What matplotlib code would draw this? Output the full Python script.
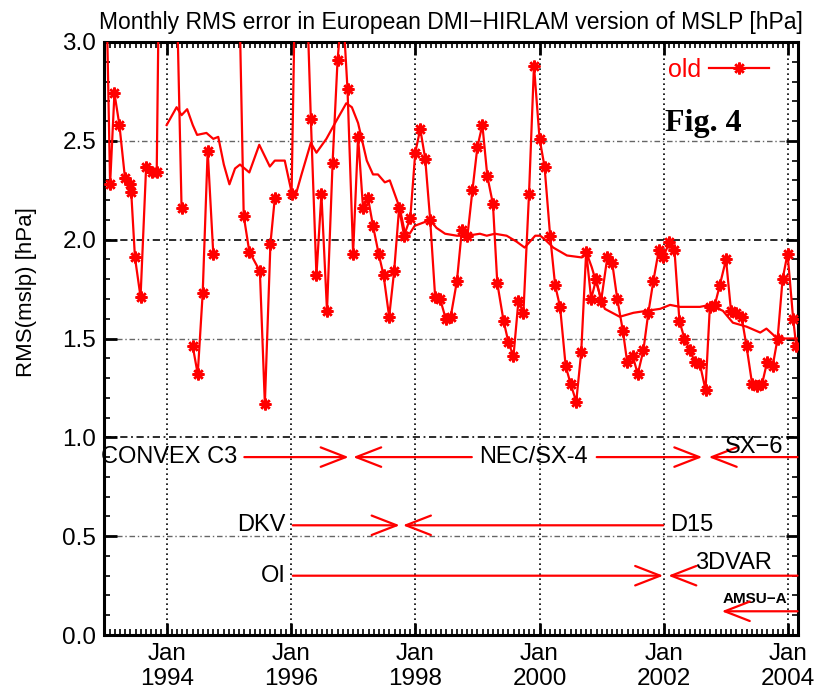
import numpy as np
import matplotlib.pyplot as plt

plt.rcParams['font.family'] = ['Liberation Sans', 'DejaVu Sans']

# monthly rms error (decimal year, hPa); nan = missing month, >3 runs off the top
years = [1993.01, 1993.09, 1993.16, 1993.24, 1993.33, 1993.41, 1993.43, 1993.49,
         1993.58, 1993.67, 1993.76, 1993.84, 1993.92, 1994.00, 1994.09, 1994.17,
         1994.24, 1994.32, 1994.42, 1994.50, 1994.58, 1994.66, 1994.75, 1994.83,
         1995.16, 1995.24, 1995.33, 1995.50, 1995.58, 1995.67, 1995.74, 1995.83,
         1996.01, 1996.09, 1996.17, 1996.25, 1996.32, 1996.41, 1996.49, 1996.58,
         1996.67, 1996.75, 1996.83, 1996.91, 1997.00, 1997.08, 1997.16, 1997.24,
         1997.32, 1997.41, 1997.49, 1997.58, 1997.66, 1997.74, 1997.82, 1997.92,
         1998.00, 1998.08, 1998.16, 1998.24, 1998.32, 1998.40, 1998.49, 1998.57,
         1998.67, 1998.75, 1998.84, 1998.92, 1999.00, 1999.08, 1999.16, 1999.25,
         1999.32, 1999.42, 1999.50, 1999.58, 1999.66, 1999.74, 1999.83, 1999.91,
         2000.00, 2000.08, 2000.17, 2000.25, 2000.33, 2000.42, 2000.50, 2000.59,
         2000.67, 2000.75, 2000.83, 2000.91, 2000.99, 2001.09, 2001.17, 2001.25,
         2001.34, 2001.41, 2001.50, 2001.58, 2001.67, 2001.75, 2001.83, 2001.92,
         2001.99, 2002.09, 2002.17, 2002.25, 2002.33, 2002.42, 2002.50, 2002.58,
         2002.67, 2002.74, 2002.82, 2002.90, 2003.00, 2003.08, 2003.16, 2003.25,
         2003.33, 2003.42, 2003.50, 2003.58, 2003.66, 2003.75, 2003.83, 2003.91,
         2003.99, 2004.08, 2004.13]
rms = [3.60, 2.28, 2.74, 2.58, 2.31, 2.28, 2.24, 1.91,
       1.71, 2.37, 2.34, 2.34, 4.50, 5.00, 4.50, 3.15,
       2.16, np.nan, 1.46, 1.32, 1.73, 2.45, 1.93, np.nan,
       3.38, 2.12, 1.94, 1.84, 1.17, 1.98, 2.21, np.nan,
       2.23, 3.74, 4.00, 3.30, 2.61, 1.82, 2.23, 1.64,
       2.39, 2.91, 3.20, 2.76, 1.93, 2.52, 2.16, 2.21,
       2.07, 1.93, 1.82, 1.61, 1.84, 2.16, 2.02, 2.11,
       2.44, 2.56, 2.41, 2.10, 1.71, 1.70, 1.60, 1.61,
       1.79, 2.05, 2.02, 2.25, 2.47, 2.58, 2.32, 2.18,
       1.78, 1.59, 1.48, 1.41, 1.69, 1.63, 2.23, 2.88,
       2.51, 2.37, 2.02, 1.77, 1.66, 1.36, 1.27, 1.18,
       1.43, 1.94, 1.70, 1.80, 1.69, 1.91, 1.88, 1.70,
       1.54, 1.38, 1.41, 1.32, 1.44, 1.63, 1.79, 1.95,
       1.91, 1.99, 1.95, 1.59, 1.50, 1.44, 1.38, 1.37,
       1.24, 1.66, 1.67, 1.77, 1.90, 1.64, 1.63, 1.61,
       1.46, 1.27, 1.26, 1.27, 1.38, 1.36, 1.50, 1.80,
       1.93, 1.60, 1.46]

# running mean curve
mean_years = [1994.00, 1994.16, 1994.24, 1994.33, 1994.42, 1994.49, 1994.64, 1994.75,
              1994.83, 1994.92, 1995.01, 1995.10, 1995.18, 1995.33, 1995.49, 1995.66,
              1995.74, 1995.90, 1996.01, 1996.08, 1996.17, 1996.32, 1996.41, 1996.57,
              1996.71, 1996.89, 1996.98, 1997.08, 1997.22, 1997.32, 1997.40, 1997.51,
              1997.59, 1997.75, 1997.83, 1997.91, 1997.99, 1998.16, 1998.24, 1998.34,
              1998.48, 1998.67, 1998.84, 1999.04, 1999.15, 1999.28, 1999.47, 1999.63,
              1999.76, 1999.93, 2000.01, 2000.09, 2000.22, 2000.44, 2000.68, 2000.76,
              2000.84, 2001.00, 2001.05, 2001.29, 2001.51, 2001.72, 2001.94, 2002.10,
              2002.26, 2002.58, 2002.74, 2002.95, 2003.11, 2003.33, 2003.55, 2003.65,
              2003.79, 2003.95, 2004.15]
mean_rms = [2.58, 2.67, 2.63, 2.66, 2.58, 2.53, 2.54, 2.51,
            2.52, 2.38, 2.28, 2.36, 2.38, 2.34, 2.48, 2.37,
            2.40, 2.40, 2.24, 2.23, 2.33, 2.49, 2.44, 2.51,
            2.59, 2.69, 2.67, 2.59, 2.40, 2.33, 2.33, 2.29,
            2.30, 2.16, 2.04, 2.03, 2.07, 2.09, 2.10, 2.06,
            2.03, 2.02, 2.02, 2.03, 2.02, 2.03, 2.02, 1.99,
            1.96, 2.02, 2.02, 2.00, 1.96, 1.92, 1.91, 1.93,
            1.86, 1.69, 1.65, 1.61, 1.63, 1.64, 1.65, 1.67,
            1.66, 1.66, 1.67, 1.64, 1.58, 1.56, 1.53, 1.55,
            1.51, 1.50, 1.50]

year_ticks = [1994, 1996, 1998, 2000, 2002, 2004]
rms_ticks = [0.0, 0.5, 1.0, 1.5, 2.0, 2.5, 3.0]

red = '#ff0000'
x0, x1 = 1993.0, 2004.15

fig = plt.figure(figsize=(8.16, 6.93), dpi=100)
ax = fig.add_axes([104.5 / 816, 1 - 635 / 693, 693 / 816, 593 / 693])

for yv in rms_ticks[1:-1]:
    dark = yv in (1.0, 2.0)
    ax.axhline(yv, color='0.1' if dark else '0.4', lw=1.3 if dark else 1,
               ls=(0, (4, 2, 1, 2)), zorder=1)
for xv in year_ticks:
    ax.axvline(xv, color='black', lw=1.2, ls=(0, (1, 2)), zorder=1)

star = (8, 2, 0)
ax.plot(years, rms, color=red, lw=1.6, marker=star, ms=8.5, mew=1.8, label='old', zorder=3)
ax.plot(mean_years, mean_rms, color=red, lw=1.6, zorder=3)

ax.set_xlim(x0, x1)
ax.set_ylim(0, 3)
ax.set_xticks(year_ticks)
ax.set_xticklabels(['Jan\n%d' % y for y in year_ticks], linespacing=1.15)
ax.set_xticks(np.arange(1993, 2004.15, 1 / 12), minor=True)
ax.set_yticks(rms_ticks)
ax.set_yticklabels(['%.1f' % v for v in rms_ticks])
ax.set_yticks(np.arange(0, 3.01, 0.1), minor=True)
ax.tick_params(which='both', direction='in', top=True, right=True, labelsize=17.5)
ax.tick_params(which='major', length=9, width=2, pad=6)
ax.tick_params(which='minor', length=4, width=1.2)
for s in ax.spines.values():
    s.set_linewidth(2.2)

ax.set_title('Monthly RMS error in European DMI\u2212HIRLAM version of MSLP [hPa]',
             fontsize=16.5, pad=9)
ax.set_ylabel('RMS(mslp) [hPa]', fontsize=16)
ax.yaxis.set_label_coords(-0.098, 0.578)

leg = ax.legend(loc='upper right', bbox_to_anchor=(0.974, 0.99), borderaxespad=0,
                frameon=False, markerfirst=False, labelcolor=red,
                fontsize=18, handlelength=2.4, numpoints=1, handletextpad=0.35)
ax.text(0.809, 0.862, 'Fig. 4', transform=ax.transAxes, fontsize=23, fontweight='bold',
        family='Liberation Serif', va='center', ha='left')

# machine / analysis periods
def seg(xa, xb, y, head=True):
    style = '->,head_length=0.9,head_width=0.35' if head else '-'
    ax.annotate('', xy=(xb, y), xytext=(xa, y),
                arrowprops=dict(arrowstyle=style, color=red, lw=1.6,
                                shrinkA=0, shrinkB=0, mutation_scale=20))

fs = 17
ax.text(1995.13, 0.90, 'CONVEX C3', ha='right', va='center', fontsize=fs)
seg(1995.25, 1996.93, 0.90)
seg(1998.91, 1997.00, 0.90)
ax.text(1999.90, 0.90, 'NEC/SX-4', ha='center', va='center', fontsize=fs)
seg(2000.92, 2002.62, 0.90)
seg(x1, 2002.72, 0.90)
ax.text(2003.46, 0.95, 'SX\u22126', ha='center', va='center', fontsize=fs)

ax.text(1995.92, 0.555, 'DKV', ha='right', va='center', fontsize=fs)
seg(1996.03, 1997.75, 0.555)
seg(2001.99, 1997.80, 0.555)
ax.text(2002.10, 0.555, 'D15', ha='left', va='center', fontsize=fs)

ax.text(1995.92, 0.30, 'OI', ha='right', va='center', fontsize=fs)
seg(1996.03, 2001.99, 0.30)
seg(x1, 2002.07, 0.30)
ax.text(2003.12, 0.365, '3DVAR', ha='center', va='center', fontsize=fs)

ax.text(2003.47, 0.18, 'AMSU\u2212A', ha='center', va='center', fontsize=11, fontweight='bold')
seg(x1, 2002.93, 0.12)

fig.savefig('out.png', dpi=100)
